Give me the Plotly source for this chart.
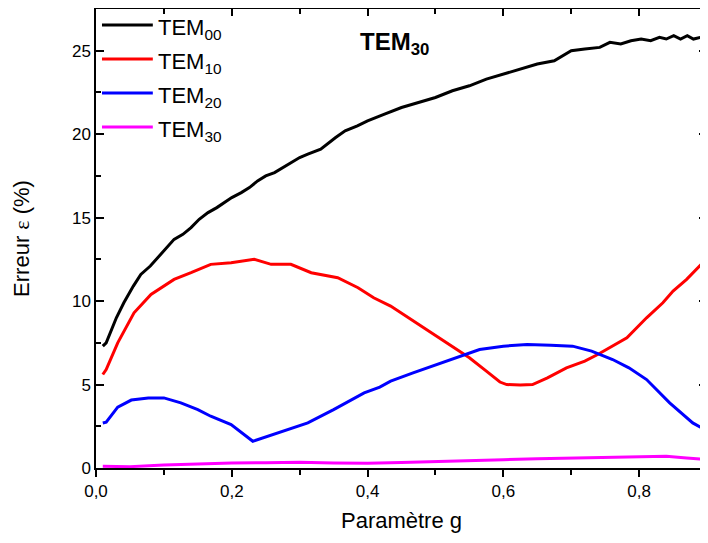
import plotly.graph_objects as go

# ---- data ----
g_tem00 = [0.01, 0.015, 0.03, 0.041, 0.055, 0.066, 0.08, 0.091, 0.105, 0.115, 0.128, 0.14, 0.152,
           0.165, 0.178, 0.189, 0.2, 0.214, 0.226, 0.238, 0.25, 0.263, 0.275, 0.287, 0.3, 0.312,
           0.331, 0.353, 0.367, 0.385, 0.4, 0.425, 0.45, 0.475, 0.5, 0.525, 0.55, 0.575, 0.6,
           0.625, 0.65, 0.675, 0.7, 0.72, 0.742, 0.757, 0.773, 0.788, 0.803, 0.817, 0.83, 0.84,
           0.851, 0.861, 0.871, 0.88, 0.89, 0.9]
tem00 = [7.3, 7.5, 9.0, 9.9, 10.9, 11.6, 12.1, 12.6, 13.2, 13.7, 14.0, 14.4, 14.9,
         15.3, 15.6, 15.9, 16.2, 16.5, 16.8, 17.2, 17.5, 17.7, 18.0, 18.3, 18.6, 18.8,
         19.1, 19.8, 20.2, 20.5, 20.8, 21.2, 21.6, 21.9, 22.2, 22.6, 22.9, 23.3, 23.6,
         23.9, 24.2, 24.4, 25.0, 25.1, 25.2, 25.5, 25.4, 25.6, 25.7, 25.6, 25.8, 25.7,
         25.9, 25.7, 25.9, 25.7, 25.8, 25.8]

g_tem10 = [0.01, 0.015, 0.032, 0.056, 0.081, 0.1, 0.115, 0.14, 0.169, 0.199, 0.233, 0.258,
           0.287, 0.317, 0.356, 0.386, 0.409, 0.434, 0.46, 0.49, 0.52, 0.55, 0.575, 0.595,
           0.605, 0.625, 0.643, 0.665, 0.693, 0.72, 0.739, 0.761, 0.782, 0.811, 0.835, 0.85,
           0.87, 0.889, 0.9]
tem10 = [5.6, 5.9, 7.5, 9.3, 10.4, 10.9, 11.3, 11.7, 12.2, 12.3, 12.5, 12.2,
         12.2, 11.7, 11.4, 10.8, 10.2, 9.7, 9.0, 8.2, 7.4, 6.6, 5.8, 5.15,
         5.0, 4.97, 5.0, 5.4, 6.0, 6.4, 6.8, 7.3, 7.8, 9.0, 9.9, 10.6,
         11.3, 12.1, 12.5]

g_tem20 = [0.01, 0.015, 0.032, 0.052, 0.077, 0.1, 0.125, 0.15, 0.169, 0.199, 0.231, 0.268,
           0.312, 0.35, 0.395, 0.418, 0.434, 0.467, 0.517, 0.565, 0.6, 0.635, 0.67, 0.702,
           0.73, 0.761, 0.785, 0.811, 0.845, 0.879, 0.89, 0.9]
tem20 = [2.7, 2.75, 3.65, 4.07, 4.2, 4.2, 3.9, 3.5, 3.1, 2.6, 1.6, 2.1,
         2.7, 3.5, 4.5, 4.85, 5.2, 5.7, 6.4, 7.1, 7.3, 7.4, 7.35, 7.3,
         7.0, 6.5, 6.0, 5.3, 3.9, 2.7, 2.45, 2.4]

g_tem30 = [0.01, 0.05, 0.1, 0.15, 0.2, 0.25, 0.3, 0.35, 0.4, 0.45, 0.5, 0.55, 0.6, 0.65,
           0.7, 0.75, 0.8, 0.84, 0.87, 0.9]
tem30 = [0.1, 0.08, 0.18, 0.25, 0.3, 0.32, 0.35, 0.3, 0.28, 0.33, 0.4, 0.45, 0.5, 0.55,
         0.6, 0.62, 0.7, 0.7, 0.6, 0.5]

series_names = ["TEM<sub>00</sub>", "TEM<sub>10</sub>", "TEM<sub>20</sub>", "TEM<sub>30</sub>"]
series_colors = ["#000000", "#ff0000", "#0000ff", "#ff00ff"]
x_ticks = [0.0, 0.2, 0.4, 0.6, 0.8]
y_ticks = [0, 5, 10, 15, 20, 25]

FONT = "Liberation Sans, Arial, sans-serif"

fig = go.Figure()
xs = [g_tem00, g_tem10, g_tem20, g_tem30]
ys = [tem00, tem10, tem20, tem30]
for name, col, x, y in zip(series_names, series_colors, xs, ys):
    fig.add_trace(go.Scatter(x=x, y=y, mode="lines", name=name,
                             line=dict(color=col, width=3), showlegend=False))

# dummy trace to activate top/right mirror axes
fig.add_trace(go.Scatter(x=[], y=[], xaxis="x2", yaxis="y2", showlegend=False))

# manual legend (lines + text)
leg_y0 = 0.965
leg_dy = 0.074
for i, (name, col) in enumerate(zip(series_names, series_colors)):
    yy = leg_y0 - i * leg_dy
    fig.add_shape(type="line", xref="paper", yref="paper",
                  x0=0.0098, x1=0.093, y0=yy, y1=yy,
                  line=dict(color=col, width=3))
    fig.add_annotation(xref="paper", yref="paper", x=0.099, y=yy - 0.008,
                       xanchor="left", yanchor="middle", showarrow=False,
                       text=name, font=dict(family=FONT, size=22, color="#000"))

fig.add_annotation(xref="paper", yref="paper", x=0.489, y=0.925,
                   xanchor="center", yanchor="middle", showarrow=False,
                   text="<b>TEM<sub>30</sub></b>", font=dict(family=FONT, size=24, color="#000"))

axis_common = dict(showgrid=False, zeroline=False, linecolor="#000", linewidth=1.5,
                   tickcolor="#000", tickwidth=1.5, automargin=False)

Y_MAX = 27.5

fig.update_layout(
    width=700, height=535,
    margin=dict(l=88, r=1, t=1, b=75),
    paper_bgcolor="white", plot_bgcolor="white",
    separators=", ",
    font=dict(family=FONT, size=16, color="#000"),
    xaxis=dict(range=[0, 0.9], tickvals=x_ticks, tickformat=".1f", ticks="outside", ticklen=7,
               minor=dict(dtick=0.1, ticks="outside", ticklen=5, tickcolor="#000", tickwidth=1.5),
               showline=True, mirror=False,
               title=dict(text="Paramètre g", font=dict(size=22), standoff=12),
               tickfont=dict(size=17), **axis_common),
    yaxis=dict(range=[0, Y_MAX], tickvals=y_ticks, ticks="inside", ticklen=8,
               minor=dict(dtick=2.5, ticks="inside", ticklen=5, tickcolor="#000", tickwidth=1.5),
               showline=True, mirror=False,
               title=dict(text="Erreur <span style=\"font-family:'Liberation Serif', 'DejaVu Serif', serif\">ε</span> (%)",
                          font=dict(size=22), standoff=36),
               tickfont=dict(size=17), **axis_common),
    xaxis2=dict(range=[0, 0.9], overlaying="x", side="top", anchor="y",
                tickvals=x_ticks, ticks="inside", ticklen=7, showticklabels=False,
                minor=dict(dtick=0.1, ticks="inside", ticklen=5, tickcolor="#000", tickwidth=1.5),
                showline=True, **axis_common),
    yaxis2=dict(range=[0, Y_MAX], overlaying="y", side="right", anchor="x",
                tickvals=y_ticks, ticks="inside", ticklen=8, showticklabels=False,
                minor=dict(dtick=2.5, ticks="inside", ticklen=5, tickcolor="#000", tickwidth=1.5),
                showline=True, **axis_common),
)

fig.write_html("out.html")
